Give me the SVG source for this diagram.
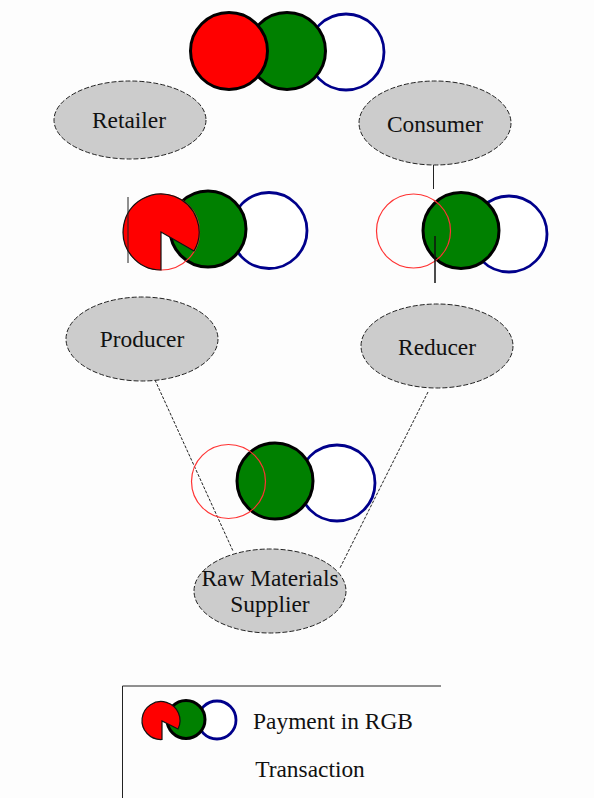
<svg xmlns="http://www.w3.org/2000/svg" width="594" height="798" viewBox="0 0 594 798">
<style>
.n{fill:#ccc;stroke:#222;stroke-width:1;stroke-dasharray:5 2}
.g{fill:#008000;stroke:#000;stroke-width:3}
.b{fill:#fff;stroke:#00008b;stroke-width:2.800}
.r{fill:none;stroke:#f33;stroke-width:1.200}
.p{fill:#f00;stroke:#111;stroke-width:1.200}
.c{fill:none;stroke:#222;stroke-width:1}
.d{stroke-dasharray:3 1.500}
text{font-family:"Liberation Serif","Times New Roman",serif;font-size:23.400px;fill:#111;text-anchor:middle}
</style>
<rect width="594" height="798" fill="#fdfdfd"/>
<g id="connectors">
<path class="c d" d="M155 380L233 551"/>
<path class="c d" d="M428 392L340 568"/>
<path class="c" d="M433.500 165V189"/>
</g>
<g id="rgb-top">
<circle class="b" cx="346" cy="52" r="38"/>
<circle class="g" cx="287" cy="51" r="38.500"/>
<circle fill="#f00" stroke="#000" stroke-width="3" cx="229" cy="51" r="38.500"/>
</g>
<g id="retailer"><ellipse class="n" cx="130" cy="120" rx="76" ry="39"/><text x="129" y="128">Retailer</text></g>
<g id="consumer"><ellipse class="n" cx="435" cy="123" rx="76" ry="42"/><text x="435" y="132">Consumer</text></g>
<g id="rgb-producer">
<circle class="b" cx="269" cy="230.500" r="38"/>
<circle class="g" cx="208" cy="229" r="38"/>
<circle class="r" cx="161.500" cy="232" r="38"/>
<path class="p" d="M161 232V270A38 38 0 1 1 194 251Z"/>
<path class="c" d="M128 197V263"/>
</g>
<g id="rgb-reducer">
<circle class="b" cx="509" cy="234" r="38"/>
<circle class="g" cx="461" cy="230.500" r="38"/>
<circle class="r" cx="413.500" cy="231" r="37"/>
<path d="M435 236V283" fill="none" stroke="#111" stroke-width="1.500"/>
</g>
<g id="producer"><ellipse class="n" cx="142" cy="339" rx="76" ry="42"/><text x="142" y="347">Producer</text></g>
<g id="reducer"><ellipse class="n" cx="437" cy="346" rx="76" ry="42"/><text x="437" y="355">Reducer</text></g>
<g id="rgb-supplier">
<circle class="b" cx="337" cy="483" r="38"/>
<circle class="g" cx="275" cy="481" r="38"/>
<circle class="r" cx="228.500" cy="481.500" r="37"/>
</g>
<g id="supplier"><ellipse class="n" cx="270" cy="591" rx="76" ry="42"/><text x="270" y="586">Raw Materials</text><text x="270" y="612">Supplier</text></g>
<g id="legend">
<path d="M441 686H122.500V798" fill="none" stroke="#222" stroke-width="1"/>
<circle class="b" cx="217" cy="720" r="19" stroke-width="2"/>
<circle class="g" cx="186" cy="719.500" r="19"/>
<path class="p" d="M162 721V739.500A19 19 0 1 1 178 729Z"/>
<text x="333" y="729">Payment in RGB</text>
<text x="310" y="777">Transaction</text>
</g>
</svg>
